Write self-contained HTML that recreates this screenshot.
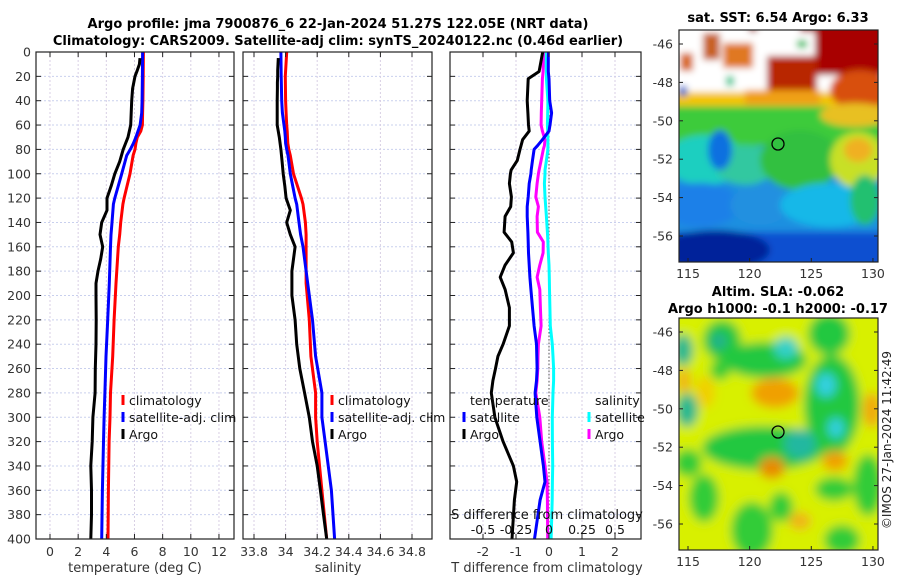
<!DOCTYPE html>
<html><head><meta charset="utf-8">
<style>
body{margin:0;background:#fff;}
svg{display:block;font-family:"DejaVu Sans","Liberation Sans",sans-serif;}
</style></head>
<body>
<svg id="fig" width="900" height="580" viewBox="0 0 900 580" xmlns="http://www.w3.org/2000/svg">
<defs>
<clipPath id="c1"><rect x="36" y="52" width="198" height="487"/></clipPath>
<clipPath id="c2"><rect x="243" y="52" width="189" height="487"/></clipPath>
<clipPath id="c3"><rect x="450" y="52" width="191" height="487"/></clipPath>
<clipPath id="cm1"><rect x="679" y="30" width="199" height="232"/></clipPath>
<clipPath id="cm2"><rect x="679" y="318" width="199" height="232"/></clipPath>
<filter id="b1" x="-10%" y="-10%" width="120%" height="120%"><feGaussianBlur stdDeviation="3.5"/></filter>
<filter id="b2" x="-10%" y="-10%" width="120%" height="120%"><feGaussianBlur stdDeviation="5"/></filter>
</defs>
<g font-weight="bold" font-size="13" text-anchor="middle" fill="#000">
<text x="338" y="28">Argo profile: jma 7900876_6 22-Jan-2024 51.27S 122.05E (NRT data)</text>
<text x="338" y="45">Climatology: CARS2009. Satellite-adj clim: synTS_20240122.nc (0.46d earlier)</text>
<text x="778" y="22">sat. SST: 6.54 Argo: 6.33</text>
<text x="778" y="296">Altim. SLA: -0.062</text>
<text x="778" y="313">Argo h1000: -0.1 h2000: -0.17</text>
</g>
<g id="maps"></g>
<g id="panels"></g>
<text transform="translate(891,440) rotate(-90)" font-size="12" text-anchor="middle" fill="#222">©IMOS 27-Jan-2024 11:42:49</text>
</svg>
<script>
// depth grid (m) shared by profiles
const depthTicks = [0,20,40,60,80,100,120,140,160,180,200,220,240,260,280,300,320,340,360,380,400];
// Temperature panel
const tDepth = [0,20,40,50,60,65,70,75,80,85,100,120,125,140,150,160,190,220,250,280,300,320,360,400];
const tClim  = [6.63,6.62,6.6,6.58,6.56,6.45,6.2,6.1,6.04,5.9,5.68,5.26,5.18,5.02,4.95,4.85,4.69,4.55,4.45,4.3,4.26,4.2,4.15,4.12];
const tSat   = [6.58,6.56,6.54,6.51,6.4,6.25,6.1,5.92,5.7,5.45,5.09,4.6,4.5,4.4,4.33,4.3,4.21,4.1,3.98,3.9,3.84,3.8,3.72,3.67];
const argoDepth = [5,10,15,20,25,30,40,50,60,70,80,90,100,110,120,130,140,150,160,170,180,190,200,220,240,260,280,300,320,340,360,380,400];
const tArgo  = [6.39,6.35,6.2,6.04,5.95,5.87,5.8,5.77,5.73,5.54,5.2,4.95,4.6,4.35,4.05,4.05,3.67,3.55,3.74,3.6,3.41,3.27,3.27,3.28,3.27,3.22,3.2,3.05,3.0,2.9,2.95,2.95,2.9];
// Salinity panel
const sClim  = [34.007,33.998,34.0,34.003,34.007,34.01,34.012,34.014,34.02,34.03,34.05,34.1,34.11,34.125,34.13,34.13,34.13,34.15,34.16,34.19,34.19,34.2,34.23,34.26];
const sSat   = [33.97,33.972,33.975,33.98,33.99,33.995,33.998,34.0,34.007,34.015,34.03,34.06,34.07,34.085,34.095,34.11,34.14,34.17,34.19,34.23,34.23,34.25,34.29,34.31];
const sArgo  = [33.954,33.952,33.95,33.95,33.948,33.948,33.947,33.947,33.947,33.96,33.97,33.978,33.985,33.995,34.003,34.03,34.007,34.03,34.06,34.05,34.04,34.04,34.04,34.06,34.07,34.09,34.12,34.15,34.17,34.2,34.22,34.24,34.26];
// Difference panel
const dDepth = [0,16,22,40,50,60,65,72,77,80,89,97,100,108,119,127,135,148,156,165,175,185,195,210,225,240,250,260,270,280,300,320,340,353,368,400];
const dTArgo = [-0.19,-0.3,-0.63,-0.66,-0.64,-0.62,-0.6,-0.8,-0.85,-0.88,-0.96,-1.15,-1.17,-1.2,-1.14,-1.16,-1.33,-1.36,-1.13,-1.08,-1.33,-1.48,-1.33,-1.2,-1.2,-1.39,-1.55,-1.62,-1.7,-1.75,-1.64,-1.39,-1.08,-0.98,-1.05,-1.12];
const dTSat  = [-0.02,-0.02,0.0,0.02,0.08,0.03,0.0,-0.2,-0.35,-0.45,-0.5,-0.54,-0.55,-0.6,-0.63,-0.66,-0.66,-0.64,-0.63,-0.62,-0.6,-0.58,-0.55,-0.5,-0.45,-0.38,-0.37,-0.36,-0.38,-0.42,-0.37,-0.27,-0.17,-0.12,-0.27,-0.44];
const dSArgo = [-0.043,-0.045,-0.05,-0.055,-0.058,-0.06,-0.05,-0.03,-0.035,-0.043,-0.06,-0.075,-0.08,-0.09,-0.1,-0.08,-0.09,-0.088,-0.043,-0.045,-0.07,-0.09,-0.07,-0.065,-0.06,-0.08,-0.083,-0.085,-0.09,-0.1,-0.07,-0.055,-0.03,-0.015,-0.012,-0.01];
const dSSat  = [-0.03,-0.02,-0.02,-0.008,-0.01,-0.012,-0.01,-0.008,-0.008,-0.008,-0.02,-0.03,-0.03,-0.035,-0.03,-0.025,-0.02,-0.012,-0.008,-0.005,0.0,0.002,0.004,0.007,0.01,0.025,0.03,0.035,0.035,0.03,0.025,0.026,0.028,0.026,0.024,0.016];
const tTicks = [0,2,4,6,8,10,12];
const sTicks = [33.8,34,34.2,34.4,34.6,34.8];
const dTTicks = [-2,-1,0,1,2];
const dSTicks = [-0.5,-0.25,0,0.25,0.5];
const dSTickLabels = ['-0.5','-0.25','0','0.25','0.5'];
const latTicks = [-46,-48,-50,-52,-54,-56];
const lonTicks = [115,120,125,130];

const NS='http://www.w3.org/2000/svg';
function el(tag,attrs,parent){const e=document.createElementNS(NS,tag);for(const k in attrs)e.setAttribute(k,attrs[k]);parent.appendChild(e);return e;}
const Y=d=>52+1.2175*d;
const xT=t=>50+14.08*t;
const xS=s=>254+158*(s-33.8);
const xDT=t=>549+33*t;
const xDS=s=>549+132*s;
const P=document.getElementById('panels');
const panels=[{x:36,w:198,c:'c1',n:'temperature'},{x:243,w:189,c:'c2',n:'salinity'},{x:450,w:191,c:'c3',n:'difference'}];

function grid(pn,xs){
  const g=el('g',{},P);
  
  
  depthTicks.forEach(d=>{if(d>0&&d<400)el('line',{x1:pn.x,x2:pn.x+pn.w,y1:Y(d),y2:Y(d),stroke:'#c9d0ee','stroke-width':1,'stroke-dasharray':'2,2'},g);});
  xs.forEach(x=>{if(x>pn.x+1&&x<pn.x+pn.w-1)el('line',{x1:x,x2:x,y1:52,y2:539,stroke:'#d8cfe4','stroke-width':1,'stroke-dasharray':'2,2'},g);});
}
grid(panels[0],tTicks.map(xT));
grid(panels[1],sTicks.map(xS));
grid(panels[2],dTTicks.map(xDT));
const zl=el('line',{x1:xDT(0),x2:xDT(0),y1:52,y2:539,stroke:'#555','stroke-width':1,'stroke-dasharray':'1.5,2'},P);



function line(pn,xs,ds,fx,color,name){
  const pts=xs.map((v,i)=>fx(v).toFixed(1)+','+Y(ds[i]).toFixed(1)).join(' ');
  const p=el('polyline',{points:pts,fill:'none',stroke:color,'stroke-width':3,'stroke-linejoin':'round','clip-path':'url(#'+pn.c+')'},P);
  
  
}
line(panels[0],tClim,tDepth,xT,'#ff0000','temp-climatology-line');
line(panels[0],tSat,tDepth,xT,'#0000ff','temp-satellite-line');
line(panels[0],tArgo,argoDepth,xT,'#000','temp-argo-line');
line(panels[1],sClim,tDepth,xS,'#ff0000','sal-climatology-line');
line(panels[1],sSat,tDepth,xS,'#0000ff','sal-satellite-line');
line(panels[1],sArgo,argoDepth,xS,'#000','sal-argo-line');
line(panels[2],dSSat,dDepth,xDS,'#00ffff','sdiff-satellite-line');
line(panels[2],dSArgo,dDepth,xDS,'#ff00ff','sdiff-argo-line');
line(panels[2],dTSat,dDepth,xDT,'#0000ff','tdiff-satellite-line');
line(panels[2],dTArgo,dDepth,xDT,'#000','tdiff-argo-line');

panels.forEach(pn=>{
  const f=el('rect',{x:pn.x,y:52,width:pn.w,height:487,fill:'none',stroke:'#222','stroke-width':1.2},P);
  
  
  depthTicks.forEach(d=>{el('line',{x1:pn.x,x2:pn.x+5,y1:Y(d),y2:Y(d),stroke:'#222'},P);el('line',{x1:pn.x+pn.w-5,x2:pn.x+pn.w,y1:Y(d),y2:Y(d),stroke:'#222'},P);});
});
depthTicks.forEach(d=>{
  const t=el('text',{x:31,y:Y(d)+4.5,'text-anchor':'end','font-size':12.5,fill:'#333'},P);
  t.textContent=d;
  
  
});
function xticks(vals,fx,labels,name){
  vals.forEach((v,i)=>{
    const x=fx(v);
    el('line',{x1:x,x2:x,y1:534,y2:539,stroke:'#222'},P);
    el('line',{x1:x,x2:x,y1:52,y2:57,stroke:'#222'},P);
    const t=el('text',{x:x,y:556,'text-anchor':'middle','font-size':12.5,fill:'#333'},P);
    t.textContent=labels?labels[i]:v;
    
    
  });
}
xticks(tTicks,xT,null,'temperature-tick-label');
xticks(sTicks,xS,null,'salinity-tick-label');
xticks(dTTicks,xDT,null,'tdiff-tick-label');
dSTicks.forEach((v,i)=>{
  const t=el('text',{x:xDS(v),y:534,'text-anchor':'middle','font-size':12.5,fill:'#111'},P);
  t.textContent=dSTickLabels[i];
  
  
});
function txt(x,y,s,name,anchor,size,fill){
  const t=el('text',{x:x,y:y,'text-anchor':anchor||'start','font-size':size||13,fill:fill||'#111'},P);
  t.textContent=s;
  
  
  return t;
}
txt(135,572,'temperature (deg C)','x-axis-title-temperature','middle',13,'#333');
txt(338,572,'salinity','x-axis-title-salinity','middle',13,'#333');
txt(547,572,'T difference from climatology','x-axis-title-tdiff','middle',13,'#333');
txt(547,519,'S difference from climatology','sdiff-axis-title','middle',13,'#111');

function legend(x,y,label,color,name){
  const m=el('line',{x1:x-6,x2:x-6,y1:y-10,y2:y,stroke:color,'stroke-width':3},P);
  
  
  txt(x,y,label,name,'start',12.5,'#111');
}
legend(129,405,'climatology','#ff0000','legend-climatology');
legend(129,422,'satellite-adj. clim','#0000ff','legend-satellite');
legend(129,439,'Argo','#000','legend-argo');
legend(338,405,'climatology','#ff0000','legend-sal-climatology');
legend(338,422,'satellite-adj. clim','#0000ff','legend-sal-satellite');
legend(338,439,'Argo','#000','legend-sal-argo');
txt(470,405,'temperature','legend-temperature-header','start',12.5);
legend(470,422,'satellite','#0000ff','legend-tdiff-satellite');
legend(470,439,'Argo','#000','legend-tdiff-argo');
txt(595,405,'salinity','legend-salinity-header','start',12.5);
legend(595,422,'satellite','#00ffff','legend-sdiff-satellite');
legend(595,439,'Argo','#ff00ff','legend-sdiff-argo');

// ===== maps =====
const M=document.getElementById('maps');
function map(top,clip,filt,base,blobs,name){
  const g=el('g',{'clip-path':'url(#'+clip+')'},M);
  
  
  const inner=el('g',{filter:'url(#'+filt+')'},g);
  el('rect',{x:670,y:top-10,width:220,height:252,fill:base},inner);
  blobs.forEach(b=>{
    if(b[0]==='r')el('rect',{x:b[1],y:b[2],width:b[3],height:b[4],fill:b[5]},inner);
    else el('ellipse',{cx:b[1],cy:b[2],rx:b[3],ry:b[4],fill:b[5]},inner);
  });
  el('rect',{x:679,y:top,width:199,height:232,fill:'none',stroke:'#222','stroke-width':1.2},M);
  const c=el('circle',{cx:778,cy:top+114,r:6,fill:'none',stroke:'#000','stroke-width':1.3},M);
  
  
  latTicks.forEach(l=>{
    const y=top+14+(-46-l)*19.2;
    el('line',{x1:679,x2:683,y1:y,y2:y,stroke:'#222'},M);
    el('line',{x1:874,x2:878,y1:y,y2:y,stroke:'#222'},M);
    const t=el('text',{x:673,y:y+4.5,'text-anchor':'end','font-size':12.5,fill:'#333'},M);
    t.textContent=l;
    
    
  });
  lonTicks.forEach(l=>{
    const x=688+12.33*(l-115);
    el('line',{x1:x,x2:x,y1:top+228,y2:top+232,stroke:'#222'},M);
    const t=el('text',{x:x,y:top+248,'text-anchor':'middle','font-size':12.5,fill:'#333'},M);
    t.textContent=l;
    
    
  });
}
map(30,'cm1','b1','#1a8fe0',[
 ['r',670,20,220,80,'#ffffff'],
 ['r',670,92,220,20,'#f4c400'],
 ['r',670,106,220,40,'#3ecb3a'],
 ['e',705,160,40,25,'#1fcfc0'],
 ['e',745,165,30,20,'#30c8a0'],
 ['e',800,160,40,30,'#30c040'],
 ['e',700,205,40,22,'#1a80e8'],
 ['e',760,205,30,20,'#2090e0'],
 ['e',830,205,50,22,'#18b8e8'],
 ['r',670,232,220,40,'#0a50d0'],
 ['e',715,250,55,20,'#00229a'],
 ['e',858,160,28,28,'#c8e028'],
 ['e',858,150,14,12,'#f0b020'],
 ['e',865,200,15,25,'#20c070'],
 ['r',815,20,75,55,'#a80000'],
 ['e',860,90,30,20,'#d85010'],
 ['e',855,115,35,12,'#e8c020'],
 ['r',767,56,50,40,'#b82800'],
 ['r',800,20,20,12,'#a80000'],
 ['r',749,20,8,12,'#a81000'],
 ['r',680,53,13,18,'#d86818'],
 ['r',703,33,17,27,'#c86020'],
 ['r',723,43,30,25,'#e07820'],
 ['r',745,90,75,15,'#f0a018'],
 ['r',797,40,10,8,'#20c060'],
 ['r',726,76,8,10,'#20c890'],
 ['r',679,86,8,10,'#1060d0'],
 ['e',720,150,12,20,'#1070e0']
],'sst-map');
map(318,'cm2','b2','#d8f000',[
 ['e',722,340,19,20,'#20c840'],['e',719,341,8,8,'#20b090'],
 ['e',683,350,10,16,'#20b890'],
 ['e',765,360,42,18,'#20c840'],['e',786,348,12,11,'#30d0c8'],
 ['e',829,334,21,21,'#20c840'],
 ['e',832,405,28,50,'#20c840'],['e',826,385,10,12,'#30d0e0'],['e',836,428,8,10,'#30d0e0'],
 ['e',764,448,62,22,'#20c840'],['e',800,444,16,15,'#20b8a0'],
 ['e',687,410,11,17,'#20b890'],
 ['e',688,463,14,14,'#30cc38'],
 ['e',704,498,15,24,'#30cc38'],
 ['e',752,530,21,28,'#30cc38'],
 ['e',781,507,12,15,'#30cc38'],
 ['e',834,489,19,12,'#30cc38'],
 ['e',868,485,15,31,'#30cc38'],
 ['e',842,540,18,15,'#30cc38'],
 ['e',720,370,10,10,'#30cc38'],
 ['e',775,393,24,15,'#f0a000'],
 ['e',772,468,13,11,'#e88a00'],
 ['e',835,461,13,10,'#f0a000'],
 ['e',684,381,7,13,'#f0b418'],
 ['e',872,410,9,18,'#f0a810'],
 ['e',800,521,11,9,'#f0b418'],
 ['e',705,392,10,16,'#f0d000']
],'sla-map');
</script>
</body></html>
